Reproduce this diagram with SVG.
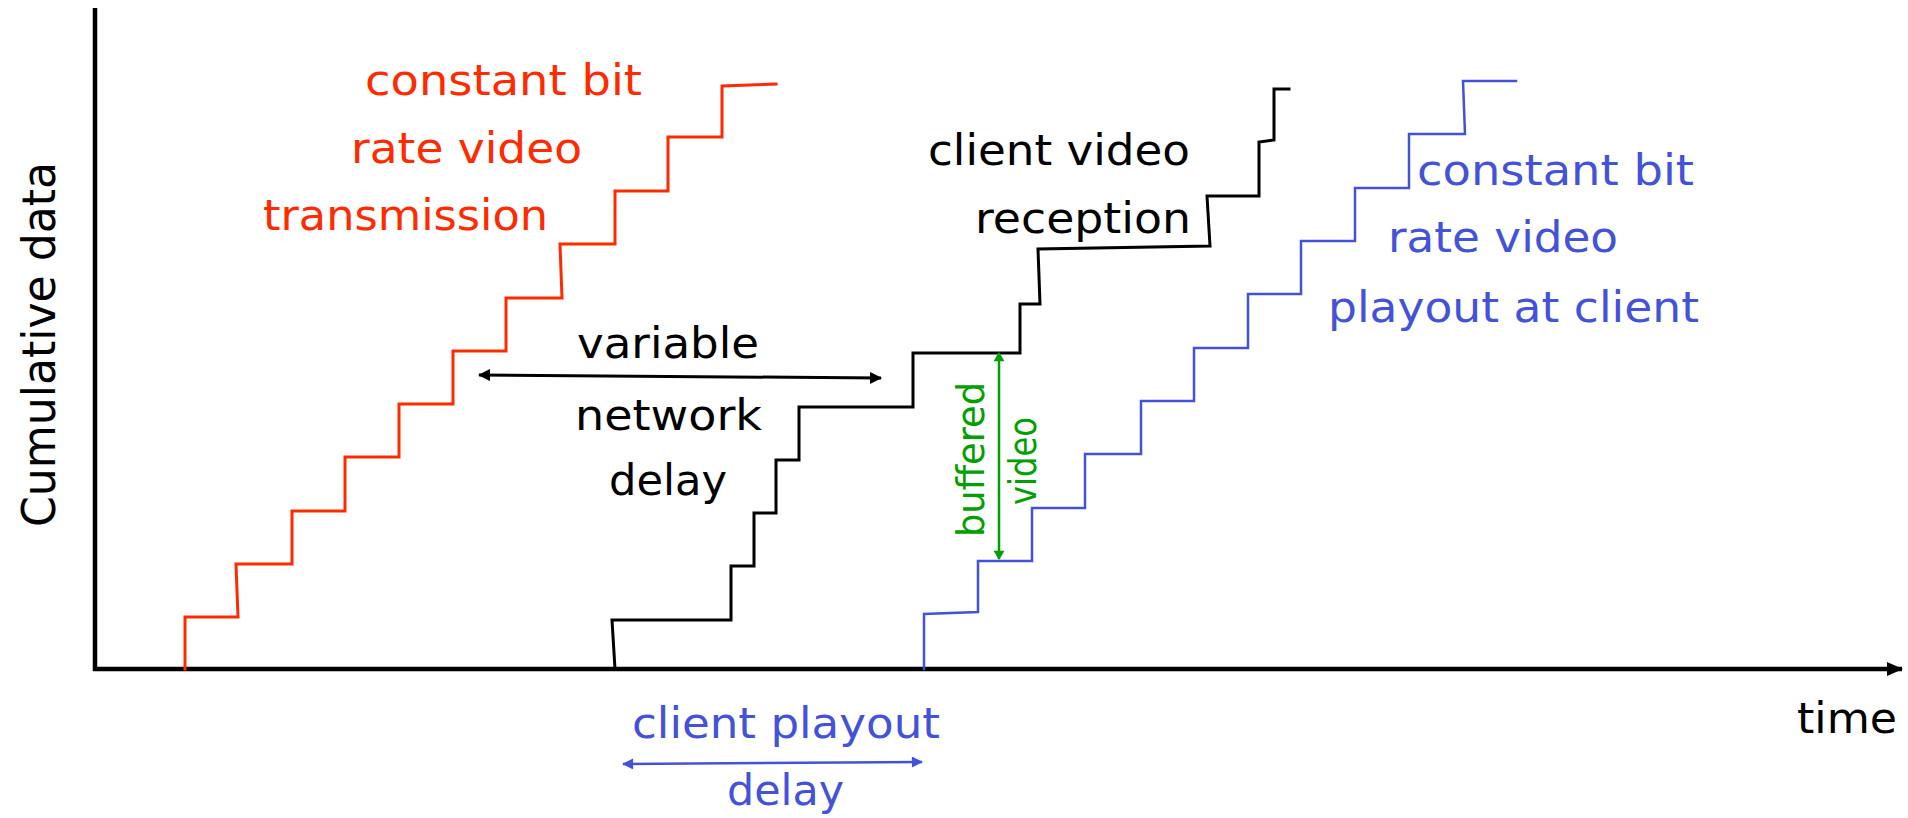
<svg xmlns="http://www.w3.org/2000/svg" width="1908" height="818" viewBox="0 0 1908 818">
  <defs>
    <marker id="ahBlack" viewBox="0 0 12 12" refX="11" refY="6" markerWidth="12" markerHeight="12" markerUnits="userSpaceOnUse" orient="auto-start-reverse">
      <path d="M0,0 L12,6 L0,12 Z" fill="#000"/>
    </marker>
    <marker id="ahBlue" viewBox="0 0 12 12" refX="11" refY="6" markerWidth="12" markerHeight="11" markerUnits="userSpaceOnUse" orient="auto-start-reverse">
      <path d="M0,0 L12,6 L0,12 Z" fill="#4352d8"/>
    </marker>
    <marker id="ahGreen" viewBox="0 0 10 12" refX="9" refY="6" markerWidth="11" markerHeight="11" markerUnits="userSpaceOnUse" orient="auto-start-reverse">
      <path d="M0,0 L10,6 L0,12 Z" fill="#00a000"/>
    </marker>
    <marker id="ahAxis" viewBox="0 0 16 16" refX="15" refY="8" markerWidth="16" markerHeight="16" markerUnits="userSpaceOnUse" orient="auto">
      <path d="M0,1 L16,8 L0,15 Z" fill="#000"/>
    </marker>
  </defs>
  <style>
    .lbl { font-family: "DejaVu Sans", "Liberation Sans", sans-serif; font-size: 42px; }
    .red { fill: #ff2a00; }
    .blk { fill: #000; }
    .blu { fill: #4352d8; }
    .grn { fill: #00a000; }
    .step { fill: none; stroke-linejoin: miter; stroke-linecap: square; }
  </style>
  <rect width="1908" height="818" fill="#fff"/>

  <g id="axes">
    <line x1="95" y1="8" x2="95" y2="671" stroke="#000" stroke-width="4.5"/>
    <line x1="93" y1="669" x2="1902" y2="669" stroke="#000" stroke-width="4.5" marker-end="url(#ahAxis)"/>
    <text class="lbl blk" transform="translate(55,527) rotate(-90)" textLength="365" lengthAdjust="spacingAndGlyphs" style="font-size:46px">Cumulative data</text>
    <text class="lbl blk" x="1797" y="733" textLength="100" lengthAdjust="spacingAndGlyphs">time</text>
  </g>

  <g id="transmission">
    <path class="step" stroke="#ff2a00" stroke-width="3" d="M185,669 V617 H238 L236,564 H292 V511 H345 V457 H399 V404 H453 V351 H506 V298 H562 L560,244 H615 V191 H668 V137 H722 V86 L776,84"/>
    <text class="lbl red" x="365" y="95" textLength="277" lengthAdjust="spacingAndGlyphs">constant bit</text>
    <text class="lbl red" x="351" y="163" textLength="231" lengthAdjust="spacingAndGlyphs">rate video</text>
    <text class="lbl red" x="263" y="230" textLength="285" lengthAdjust="spacingAndGlyphs">transmission</text>
  </g>

  <g id="reception">
    <path class="step" stroke="#000" stroke-width="3" d="M615,669 L612,620 H731 V566 H754 V513 H776 V460 H799 V407 H913 V353 H1020 V304 H1040 L1038,249 L1210,246 L1207,196 H1259 V142 L1274,140 V89 H1289"/>
    <text class="lbl blk" x="928" y="165" textLength="262" lengthAdjust="spacingAndGlyphs">client video</text>
    <text class="lbl blk" x="975" y="233" textLength="216" lengthAdjust="spacingAndGlyphs">reception</text>
  </g>

  <g id="playout">
    <path class="step" stroke="#4352d8" stroke-width="2.5" d="M924,669 V614 L978,612 V561 H1032 V508 H1085 V454 H1141 V401 H1194 V348 H1248 V294 H1301 V241 H1355 V188 H1409 V134 H1465 L1463,81 H1516"/>
    <text class="lbl blu" x="1417" y="185" textLength="277" lengthAdjust="spacingAndGlyphs">constant bit</text>
    <text class="lbl blu" x="1388" y="252" textLength="230" lengthAdjust="spacingAndGlyphs">rate video</text>
    <text class="lbl blu" x="1328" y="322" textLength="371" lengthAdjust="spacingAndGlyphs">playout at client</text>
  </g>

  <g id="connectors">
    <line x1="479" y1="375" x2="881" y2="378" stroke="#000" stroke-width="3" marker-start="url(#ahBlack)" marker-end="url(#ahBlack)"/>
    <line x1="999" y1="353" x2="999" y2="559" stroke="#00a000" stroke-width="2.5" marker-start="url(#ahGreen)" marker-end="url(#ahGreen)"/>
    <line x1="623" y1="764" x2="922" y2="762" stroke="#4352d8" stroke-width="2.5" marker-start="url(#ahBlue)" marker-end="url(#ahBlue)"/>
  </g>

  <g id="network-delay-label">
    <text class="lbl blk" x="577" y="358" textLength="182" lengthAdjust="spacingAndGlyphs">variable</text>
    <text class="lbl blk" x="575" y="430" textLength="187" lengthAdjust="spacingAndGlyphs">network</text>
    <text class="lbl blk" x="609" y="495" textLength="118" lengthAdjust="spacingAndGlyphs">delay</text>
  </g>

  <g id="buffered-label">
    <text class="lbl grn" transform="translate(984,537) rotate(-90)" textLength="155" lengthAdjust="spacingAndGlyphs" style="font-size:37px">buffered</text>
    <text class="lbl grn" transform="translate(1036,505) rotate(-90)" textLength="88" lengthAdjust="spacingAndGlyphs" style="font-size:37px">video</text>
  </g>

  <g id="playout-delay-label">
    <text class="lbl blu" x="632" y="738" textLength="308" lengthAdjust="spacingAndGlyphs">client playout</text>
    <text class="lbl blu" x="727" y="805" textLength="117" lengthAdjust="spacingAndGlyphs">delay</text>
  </g>
</svg>
